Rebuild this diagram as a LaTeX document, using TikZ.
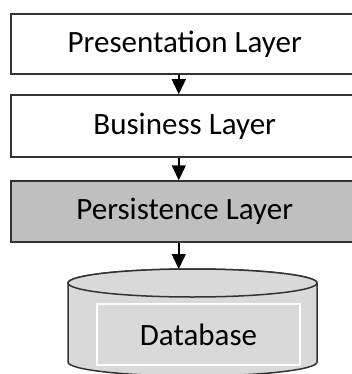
\documentclass[tikz,border=0pt]{standalone}
\usepackage{fontspec}
\setmainfont{Carlito}
\usepackage{tikz}
\usetikzlibrary{shapes.geometric,arrows.meta,positioning,calc}
\tikzset{
    layer/.style={rectangle, draw=black!80, line width=1.5pt, minimum width=380pt, anchor=west},
    layertext/.style={font=\fontsize{31}{36}\selectfont, xshift=-16pt},
    dbbody/.style={draw=black!80, line width=1.5pt, fill=gray!30},
    dbinner/.style={rectangle, draw=white, line width=1.2pt, fill=gray!30, minimum width=203pt, minimum height=61pt, font=\fontsize{31}{36}\selectfont},
    line/.style={draw=black, line width=1.5pt, -{Triangle[length=15pt,width=14pt]}}
}
\begin{document}
\begin{tikzpicture}[x=1pt, y=-1pt]
    \useasboundingbox (0,0) rectangle (351,374);
    % Layers
    \node [layer, minimum height=60pt, label={[layertext]center:Presentation Layer}] (presentation) at (10,44) {};
    \node [layer, minimum height=62pt, label={[layertext]center:Business Layer}] (business) at (10,126) {};
    \node [layer, minimum height=61pt, fill=gray!50, label={[layertext]center:Persistence Layer}] (persistence) at (10,211.5) {};
    
    % Storage
    \path [dbbody] (68,283) -- (68,362) arc [start angle=180, end angle=0, x radius=124.5, y radius=14]
        -- (317,283) arc [start angle=0, end angle=-180, x radius=124.5, y radius=14] -- cycle;
    \draw [dbbody] (192.5,283) ellipse [x radius=124.5, y radius=14];
    \coordinate (dbtop) at (192.5,269);
    \node [dbinner] (database) at (198.5,334.5) {Database};
    
    % Connections
    \path [line] ([xshift=-22pt]presentation.south) -- ([xshift=-22pt]business.north);
    \path [line] ([xshift=-22pt]business.south) -- ([xshift=-22pt]persistence.north);
    \path [line] ([xshift=-22pt]persistence.south) -- ([xshift=-22pt]persistence.south |- dbtop);
\end{tikzpicture}
\end{document}
